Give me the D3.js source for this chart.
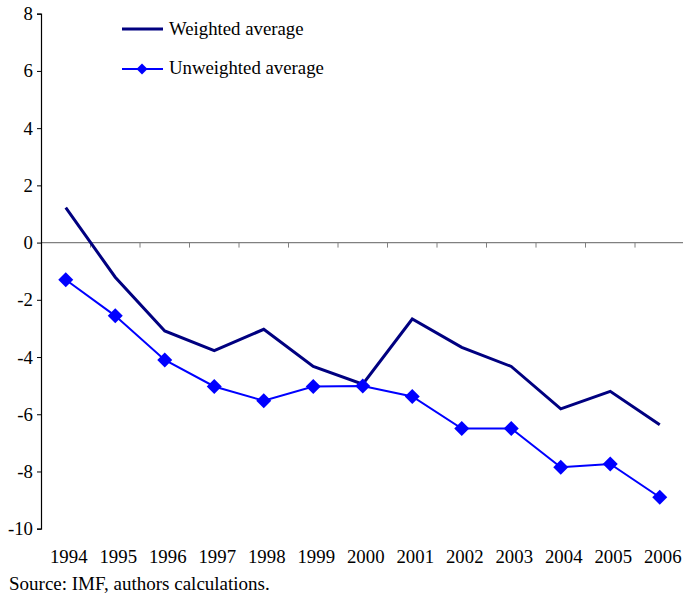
<!DOCTYPE html>
<html>
<head>
<meta charset="utf-8">
<script src="https://cdn.jsdelivr.net/npm/d3@7/dist/d3.min.js"></script>
<style>
  html, body { margin: 0; padding: 0; background: #fff; }
  svg { display: block; }
</style>
</head>
<body>
<svg id="chart" width="683" height="598"></svg>
<script>
const years = ["1994","1995","1996","1997","1998","1999","2000","2001","2002","2003","2004","2005","2006"];
const weighted = [1.22, -1.21, -3.09, -3.78, -3.03, -4.33, -4.95, -2.67, -3.66, -4.33, -5.81, -5.20, -6.37];
const unweighted = [-1.30, -2.56, -4.10, -5.03, -5.53, -5.03, -5.01, -5.38, -6.50, -6.50, -7.85, -7.74, -8.90];
const yTicks = [8, 6, 4, 2, 0, -2, -4, -6, -8, -10];
const seriesNames = ["Weighted average", "Unweighted average"];

(function () {
const svg = d3.select("#chart");
const pLeft = 41, pRight = 684.5, pTop = 13.7, pBottom = 528.7;
const FS = 18.8;
const FF = '"Liberation Serif", "Times New Roman", serif';

const x = d3.scaleBand().domain(years).range([pLeft, pRight]).paddingInner(0).paddingOuter(0);
const y = d3.scaleLinear().domain([-10, 8]).range([pBottom, pTop]);
const cx = d => x(d) + x.bandwidth() / 2;

// zero line with category tick marks
const zg = svg.append("g").attr("transform", `translate(0,${y(0)})`);
zg.append("line").attr("x1", pLeft).attr("x2", 683).attr("y1", 0).attr("y2", 0)
  .attr("stroke", "#808080").attr("stroke-width", 1.3);
const bounds = years.slice(1).map(d => x(d));
zg.selectAll("line.bt").data(bounds).enter().append("line").attr("class", "bt")
  .attr("x1", d => d).attr("x2", d => d).attr("y1", 0).attr("y2", 5)
  .attr("stroke", "#808080").attr("stroke-width", 1);

// y axis
const yAxis = d3.axisLeft(y).tickValues(yTicks).tickSize(4).tickFormat(d => String(d));
const yg = svg.append("g").attr("transform", `translate(${pLeft},0)`).call(yAxis);
yg.select(".domain").attr("stroke", "#000").attr("stroke-width", 1.2);
yg.selectAll(".tick line").attr("stroke", "#000");
yg.selectAll(".tick text").style("font-family", FF).style("font-size", FS + "px")
  .attr("fill", "#000").attr("x", -8);

// x labels
svg.append("g").selectAll("text").data(years).enter().append("text")
  .attr("x", d => cx(d) + 3).attr("y", 563)
  .attr("text-anchor", "middle").style("font-family", FF).style("font-size", FS + "px").attr("fill", "#000")
  .text(d => d);

// lines
const line = d3.line().x((d, i) => cx(years[i])).y(d => y(d));
svg.append("path").datum(weighted).attr("d", line)
  .attr("fill", "none").attr("stroke", "#000080").attr("stroke-width", 3);
svg.append("path").datum(unweighted).attr("d", line)
  .attr("fill", "none").attr("stroke", "#0000FF").attr("stroke-width", 2);

const diamond = (s) => `M0,${-s}L${s},0L0,${s}L${-s},0Z`;
svg.append("g").selectAll("path").data(unweighted).enter().append("path")
  .attr("d", diamond(7.5))
  .attr("transform", (d, i) => `translate(${cx(years[i])},${y(d)})`)
  .attr("fill", "#0000FF");

// legend
const lg = svg.append("g");
lg.append("line").attr("x1", 122).attr("x2", 163).attr("y1", 29).attr("y2", 29)
  .attr("stroke", "#000080").attr("stroke-width", 3);
lg.append("text").attr("x", 169).attr("y", 35).style("font-family", FF).style("font-size", FS + "px")
  .attr("fill", "#000").text(seriesNames[0]);
lg.append("line").attr("x1", 122).attr("x2", 163).attr("y1", 69).attr("y2", 69)
  .attr("stroke", "#0000FF").attr("stroke-width", 2);
lg.append("path").attr("d", diamond(5.5)).attr("transform", "translate(142,69)").attr("fill", "#0000FF");
lg.append("text").attr("x", 169).attr("y", 74).style("font-family", FF).style("font-size", FS + "px")
  .attr("fill", "#000").text(seriesNames[1]);

// source
svg.append("text").attr("x", 9).attr("y", 590).style("font-family", FF).style("font-size", "19px")
  .attr("fill", "#000").text("Source: IMF, authors calculations.");
})();
</script>
</body>
</html>
